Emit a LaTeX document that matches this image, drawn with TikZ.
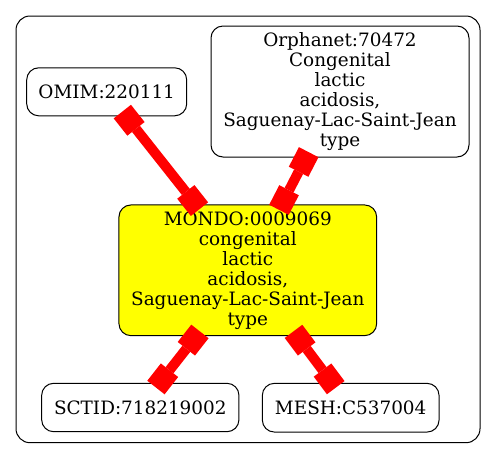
\documentclass[tikz,border=0pt]{standalone}
\usepackage{fontspec}
\setmainfont{DejaVu Serif}
\usetikzlibrary{arrows.meta}
\definecolor{gvyellow}{RGB}{255,255,0}
\definecolor{gvred}{RGB}{255,0,0}
\begin{document}
\begin{tikzpicture}[x=1pt,y=-1pt,
  box/.style={draw=black,line width=1pt,rounded corners=12pt,align=center,inner sep=0pt,
    font=\fontsize{18.4}{20}\selectfont},
  link/.style={draw=gvred,line width=10pt,
    arrows={Square[length=22pt,width=22pt,line width=0pt]-Square[length=22pt,width=22pt,line width=0pt]},
    shorten <=-6pt,shorten >=-6pt}]
\useasboundingbox (0,0) rectangle (496,459);
\draw[line width=1pt,rounded corners=14pt] (16,16) rectangle (480,442.7);
\node[box,minimum width=160pt,minimum height=48pt] (omim) at (106.7,91.8) {OMIM:220111};
\node[box,minimum width=258pt,minimum height=131pt] (orpha) at (340,91.5)
  {Orphanet:70472\\Congenital\\lactic\\acidosis,\\Saguenay-Lac-Saint-Jean\\type};
\node[box,fill=gvyellow,minimum width=257.7pt,minimum height=130.7pt] (mondo) at (247.8,270.3)
  {MONDO:0009069\\congenital\\lactic\\acidosis,\\Saguenay-Lac-Saint-Jean\\type};
\node[box,minimum width=197.3pt,minimum height=48.4pt] (sctid) at (140.3,407.5) {SCTID:718219002};
\node[box,minimum width=176.7pt,minimum height=48.7pt] (mesh) at (350.7,407.7) {MESH:C537004};
\draw[link] (omim) -- (mondo);
\draw[link] (orpha) -- (mondo);
\draw[link] (mondo) -- (sctid);
\draw[link] (mondo) -- (mesh);
\end{tikzpicture}
\end{document}
